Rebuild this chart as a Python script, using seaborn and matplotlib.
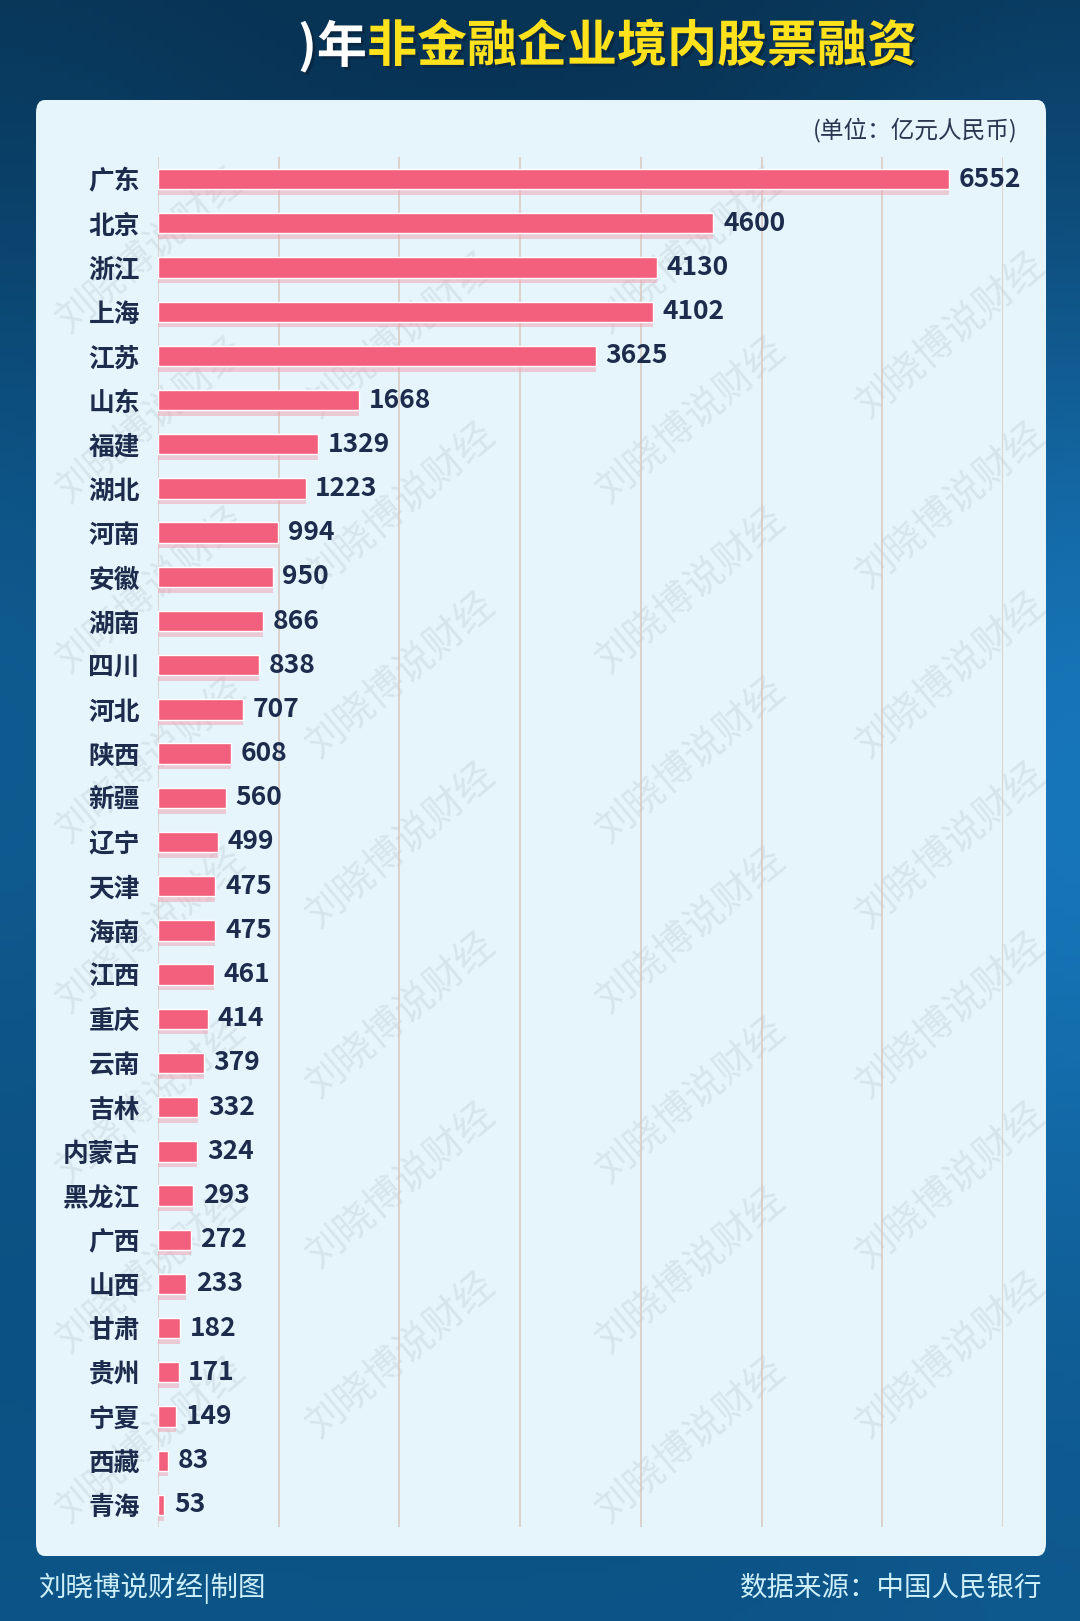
import numpy as np
import pandas as pd
import matplotlib
matplotlib.use("Agg")
import matplotlib.pyplot as plt
import matplotlib.patheffects as pe
from matplotlib.patches import FancyBboxPatch
import seaborn as sns

# data
provinces = ["广东", "北京", "浙江", "上海", "江苏", "山东", "福建", "湖北", "河南", "安徽",
             "湖南", "四川", "河北", "陕西", "新疆", "辽宁", "天津", "海南", "江西", "重庆",
             "云南", "吉林", "内蒙古", "黑龙江", "广西", "山西", "甘肃", "贵州", "宁夏", "西藏", "青海"]
financing = [6552, 4600, 4130, 4102, 3625, 1668, 1329, 1223, 994, 950,
             866, 838, 707, 608, 560, 499, 475, 475, 461, 414,
             379, 332, 324, 293, 272, 233, 182, 171, 149, 83, 53]
grid_ticks = [1000, 2000, 3000, 4000, 5000, 6000, 7000]

title_left = ")年"
title_right = "非金融企业境内股票融资"
unit_text = "(单位：亿元人民币)"
footer_left = "刘晓博说财经|制图"
footer_right = "数据来源：中国人民银行"
watermark = "刘晓博说财经"

df = pd.DataFrame({"province": provinces, "value": financing})

sns.set_theme(style="white")
plt.rcParams["font.family"] = ["Noto Sans CJK SC", "DejaVu Sans"]

W, H = 1080, 1621
fig = plt.figure(figsize=(W / 100, H / 100), dpi=100)

# background: dark blue gradient
bg = fig.add_axes([0, 0, 1, 1])
yy, xx = np.mgrid[0:1:200j, 0:1:140j]
top = np.array([0.03, 0.20, 0.33])
bot = np.array([0.05, 0.33, 0.53])
img = top + (bot - top) * yy[..., None]
glow = np.exp(-(((xx - 1.0) / 0.25) ** 2 + ((yy - 0.45) / 0.35) ** 2))
img = img + glow[..., None] * np.array([0.05, 0.2, 0.3])
glow2 = np.exp(-(((xx - 0.0) / 0.2) ** 2 + ((yy - 0.4) / 0.3) ** 2))
img = img + glow2[..., None] * np.array([0.02, 0.1, 0.15])
bg.imshow(np.clip(img, 0, 1), aspect="auto", extent=[0, 1, 0, 1], origin="upper")
bg.set_xlim(0, 1)
bg.set_ylim(0, 1)
bg.axis("off")

# light panel
panel = FancyBboxPatch((36 / W, 1 - 1556 / H), (1046 - 36) / W, (1556 - 100) / H,
                       boxstyle="round,pad=0,rounding_size=0.008",
                       transform=fig.transFigure, facecolor="#e5f5fb", edgecolor="none")
bg.add_patch(panel)

# watermarks, kept inside the panel
wm_cols = [150, 400, 690, 950]
for row in range(8):
    for i, cx in enumerate(wm_cols):
        cy = 250 + row * 170 + (85 if i % 2 else 0)
        if cy > 1440:
            continue
        bg.text(cx / W, 1 - cy / H, watermark, fontsize=28, color="#9aa8b0", alpha=0.2,
                rotation=40, ha="center", va="center", transform=fig.transFigure)

# chart axes
ax = fig.add_axes([158 / W, 1 - 1527 / H, (1003 - 158) / W, (1527 - 157) / H])
ax.set_facecolor("none")
sns.barplot(data=df, y="province", x="value", orient="h", color="#f2607e",
            saturation=1, width=0.46, ax=ax)
for p in ax.patches:
    p.set_path_effects([pe.SimplePatchShadow(offset=(0, -4), shadow_rgbFace="#f0a0b0", alpha=0.5),
                        pe.Normal()])

ax.set_xlim(0, 7000)
ax.set_ylim(len(provinces) - 0.5, -0.5)
for t in grid_ticks:
    ax.axvline(t, color="#d9cbc5", lw=1.2, zorder=0)
ax.axvline(0, color="#d9cbc5", lw=1.2, zorder=0)
ax.set_xticks([])
ax.set_xlabel("")
ax.set_ylabel("")
ax.tick_params(axis="y", length=0, pad=13)
for lab in ax.get_yticklabels():
    lab.set_fontsize(18.5)
    lab.set_fontweight("bold")
    lab.set_color("#1d2b4c")
ax.bar_label(ax.containers[0], labels=[str(v) for v in financing], padding=7,
             fontsize=19, fontweight="bold", color="#1d2b4c")
sns.despine(ax=ax, left=True, bottom=True)

# titles and footers
shadow = [pe.withSimplePatchShadow(offset=(2, -2), shadow_rgbFace="#0a2540", alpha=0.8)]
fig.text(367 / W, 1 - 47 / H, title_left, fontsize=36, fontweight="heavy", color="white",
         ha="right", va="center", path_effects=shadow)
fig.text(367 / W, 1 - 47 / H, title_right, fontsize=36, fontweight="heavy", color="#ffe21c",
         ha="left", va="center", path_effects=shadow)
fig.text(1018 / W, 1 - 130 / H, unit_text, fontsize=17, color="#2a3550", ha="right", va="center")
fig.text(39 / W, 1 - 1588 / H, footer_left, fontsize=19.8, color="#cdeff9", ha="left", va="center")
fig.text(1042 / W, 1 - 1588 / H, footer_right, fontsize=19.8, color="#cdeff9", ha="right", va="center")

fig.savefig("out.png", dpi=100)
